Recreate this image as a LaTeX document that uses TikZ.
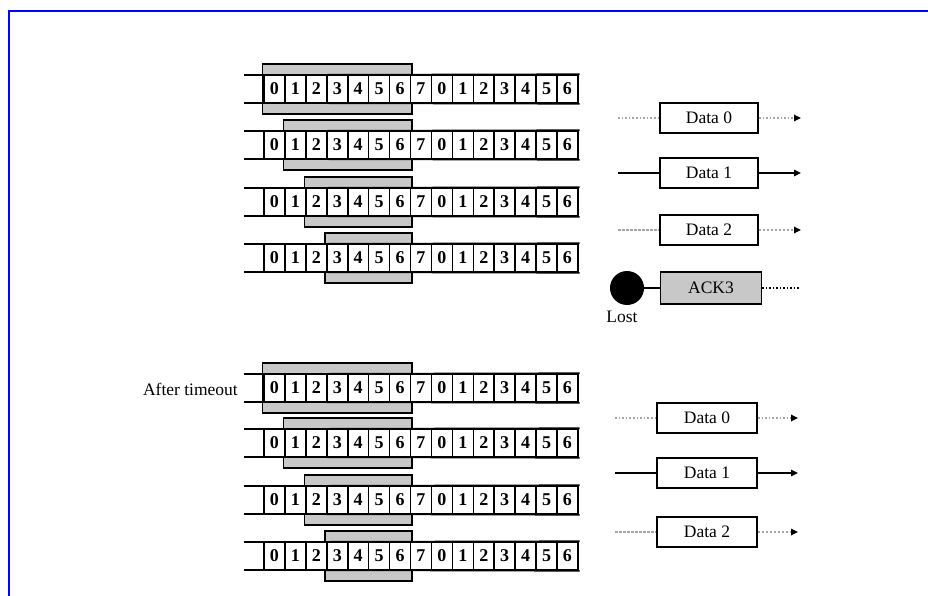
\documentclass[tikz,border=0pt]{standalone}
\usepackage{fontspec}
\setmainfont{Liberation Serif}
\usetikzlibrary{arrows.meta}
\definecolor{winGray}{RGB}{200,200,200}
\definecolor{ackGray}{RGB}{200,200,200}
\definecolor{frameBlue}{RGB}{0,0,255}
\definecolor{lineGray}{RGB}{165,165,165}
\begin{document}
\begin{tikzpicture}[x=1pt,y=-1pt,
  cell/.style={draw=black, line width=1.6pt, fill=white, minimum width=20.93pt,
    minimum height=28pt, inner sep=0pt, font=\fontsize{18}{20}\selectfont\bfseries},
  win/.style={draw=black, line width=1.6pt, fill=winGray, inner sep=0pt, minimum height=50pt},
  tape/.style={line width=1.6pt, line cap=rect},
  msg/.style={draw=black, line width=1.8pt, fill=white, minimum width=98pt,
    minimum height=30pt, inner sep=0pt, font=\fontsize{17.5}{20}\selectfont},
  lbl/.style={inner sep=0pt, font=\fontsize{17.5}{20}\selectfont},
  dotline/.style={draw=lineGray, line width=1.6pt, dotted},
  dashline/.style={draw=lineGray, line width=1.6pt, dash pattern=on 2.5pt off 1.5pt},
  solidline/.style={draw=black, line width=1.5pt},
  arr/.style={-{Triangle[length=7pt,width=6.5pt,color=black]}}
]
\useasboundingbox (0,0) rectangle (928,596);
% frame
\draw[frameBlue, line width=2.5pt] (928,11) -- (9,11) -- (9,596);

% tapes
\foreach \r/\y/\s in {1/89/0, 2/145/1, 3/202/2, 4/258/3, 5/388/0, 6/443/1, 7/500/2, 8/556/3}{
  \pgfmathsetmacro\wl{264+\s*20.93-1.5}
  \pgfmathsetmacro\wr{264+7*20.93+1.5}
  \pgfmathsetmacro\ww{\wr-\wl}
  \pgfmathsetmacro\wc{(\wl+\wr)/2}
  \node[win, minimum width=\ww pt] (w\r) at (\wc,\y) {};
  \coordinate (tl\r) at (245,\y-14);
  \coordinate (bl\r) at (245,\y+14);
  \foreach \d [count=\i from 0] in {0,1,2,3,4,5,6,7,0,1,2,3,4,5,6}{
    \node[cell] (c\r-\i) at ({264+(\i+0.5)*20.93},\y) {\d};
  }
  \draw[tape] (tl\r) -- (c\r-14.north east);
  \draw[tape] (bl\r) -- (c\r-14.south east);
}

\node[lbl, anchor=east] (tmo) at (238,389) {After timeout};

% top messages
\node[msg] (a0) at (709,118) {Data 0};
\node[msg] (a1) at (709,173) {Data 1};
\node[msg] (a2) at (709,230) {Data 2};
\node[msg, fill=ackGray, minimum width=101pt, minimum height=32pt] (ack) at (711,288) {ACK3};
\node[circle, fill=black, minimum size=34pt, inner sep=0pt] (lost) at (627,288) {};
\node[lbl, anchor=north] (lostlbl) at (622,311) {Lost};

\coordinate (a0l) at (618,118); \coordinate (a0r) at (801,118);
\coordinate (a1l) at (618,173); \coordinate (a1r) at (801,173);
\coordinate (a2l) at (618,230); \coordinate (a2r) at (801,230);
\coordinate (ackr) at (800,288);

\draw[dotline] (a0l) -- (a0);
\draw[dotline, arr] (a0) -- (a0r);
\draw[solidline] (a1l) -- (a1);
\draw[solidline, arr] (a1) -- (a1r);
\draw[dashline] (a2l) -- (a2);
\draw[dashline, arr] (a2) -- (a2r);
\draw[line width=1.2pt] (lost) -- (ack);
\draw[line width=1.5pt, dotted] (ack) -- (ackr);

% bottom messages
\node[msg, minimum width=100pt] (b0) at (707,418) {Data 0};
\node[msg, minimum width=100pt] (b1) at (707,473) {Data 1};
\node[msg, minimum width=100pt] (b2) at (707,532) {Data 2};

\coordinate (b0l) at (615,418); \coordinate (b0r) at (798,418);
\coordinate (b1l) at (615,473); \coordinate (b1r) at (798,473);
\coordinate (b2l) at (615,532); \coordinate (b2r) at (798,532);

\draw[dotline] (b0l) -- (b0);
\draw[dotline, arr] (b0) -- (b0r);
\draw[solidline] (b1l) -- (b1);
\draw[solidline, arr] (b1) -- (b1r);
\draw[dashline] (b2l) -- (b2);
\draw[dashline, arr] (b2) -- (b2r);
\end{tikzpicture}
\end{document}
